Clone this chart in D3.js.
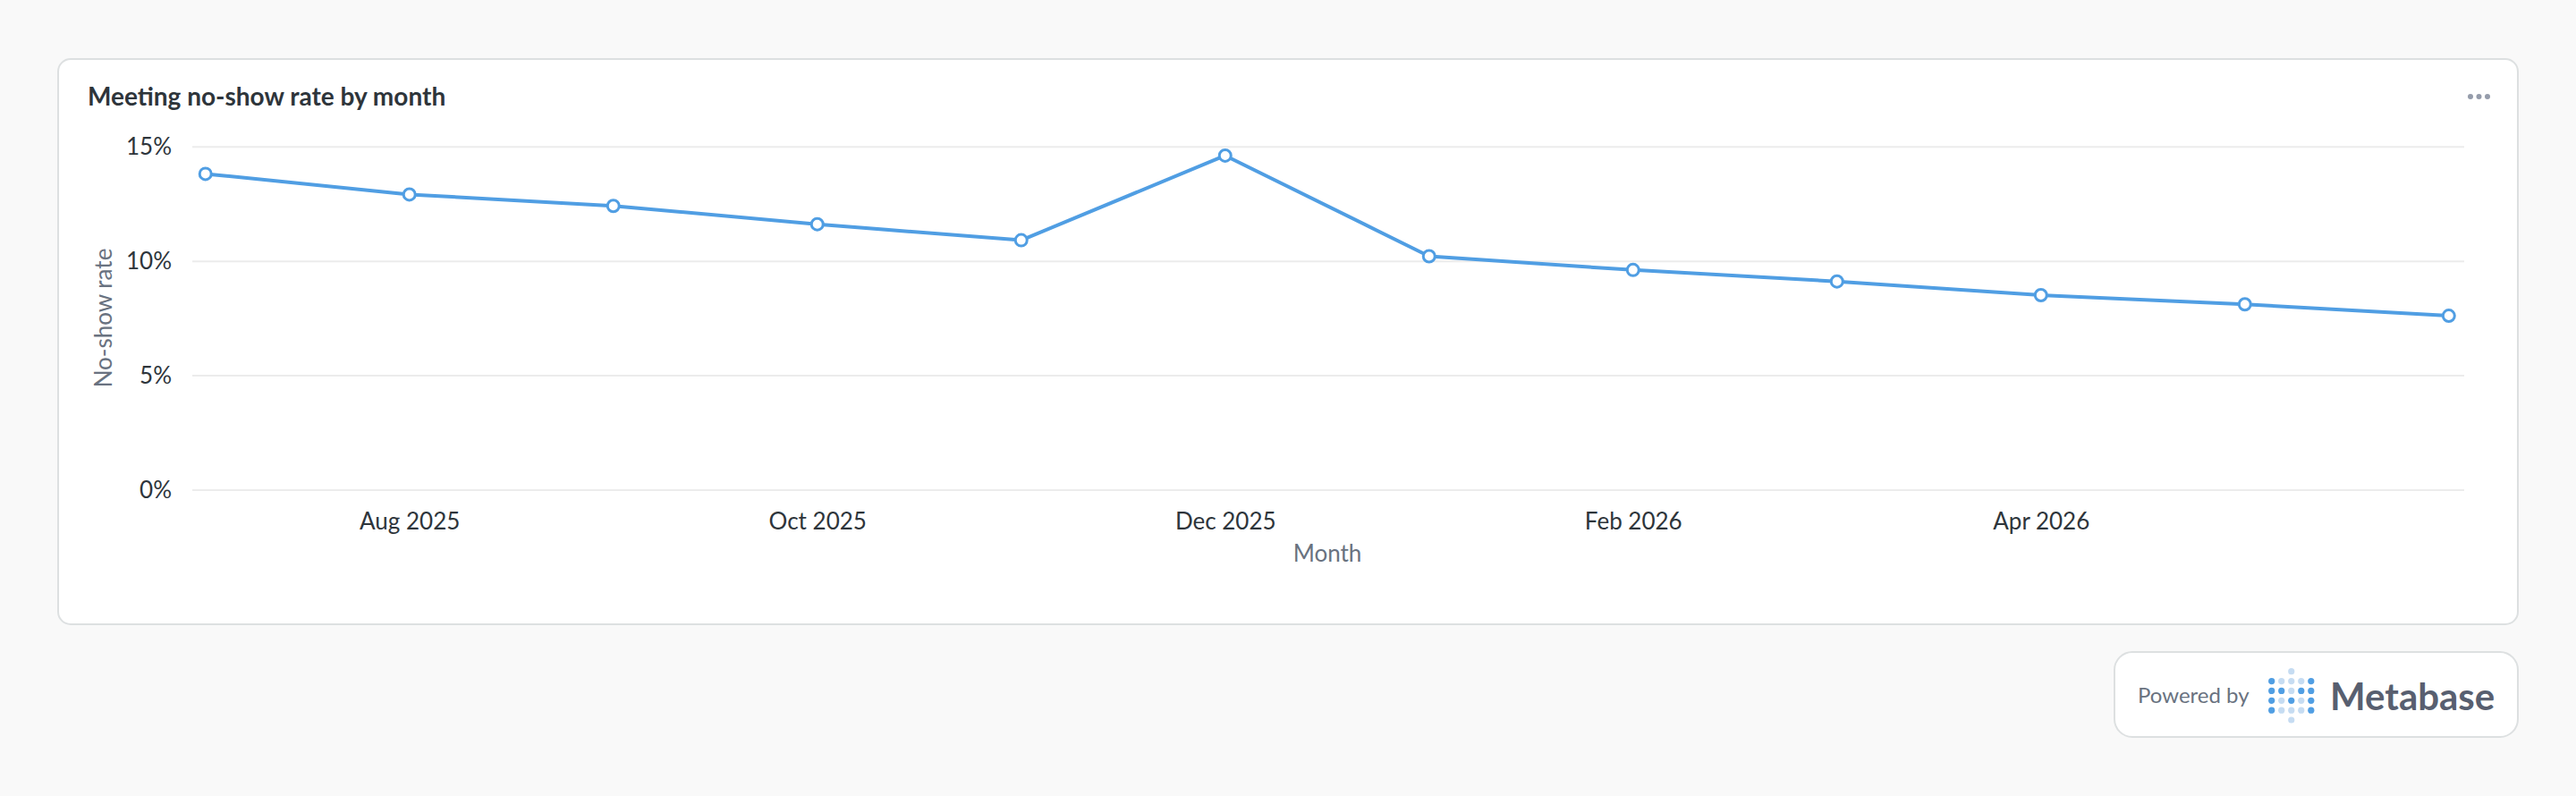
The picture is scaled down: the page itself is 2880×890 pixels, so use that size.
<!DOCTYPE html>
<html>
<head>
<meta charset="utf-8">
<script src="https://cdn.jsdelivr.net/npm/d3@7"></script>
<style>
  html, body { margin: 0; padding: 0; background: #f9f9f9; }
  svg { display: block; font-family: Lato, "Noto Sans", sans-serif; }
</style>
</head>
<body>
<svg id="chart" width="2880" height="890"></svg>
<script>
// ---- data ----
const months = ["Jul 2025","Aug 2025","Sep 2025","Oct 2025","Nov 2025","Dec 2025",
                "Jan 2026","Feb 2026","Mar 2026","Apr 2026","May 2026","Jun 2026"];
const noShowRate = [13.8, 12.9, 12.4, 11.6, 10.9, 14.6, 10.2, 9.6, 9.1, 8.5, 8.1, 7.6];
const xTickLabels = ["Aug 2025","Oct 2025","Dec 2025","Feb 2026","Apr 2026"];
const yTicks = [0, 5, 10, 15];
const chartTitle = "Meeting no-show rate by month";
const xAxisTitle = "Month";
const yAxisTitle = "No-show rate";
// Metabase logo dot pattern (1 = dark, 0 = light)
const logoRows = [[0,0,0,0,0],[1,0,0,0,1],[1,1,0,1,1],[1,0,1,0,1],[1,0,0,0,1],[0,0,0,0,0]];

const svg = d3.select("#chart");
const blue = "#509ee3";

// card
svg.append("rect").attr("x", 65).attr("y", 66).attr("width", 2750).attr("height", 632)
  .attr("rx", 14).attr("fill", "#fff").attr("stroke", "#dde0e1").attr("stroke-width", 2);

svg.append("text").attr("x", 98).attr("y", 118).text(chartTitle)
  .attr("font-size", 28).attr("font-weight", 700).attr("fill", "#2e353b");

// menu dots
[2762, 2771.5, 2781].forEach(cx => svg.append("circle").attr("cx", cx).attr("cy", 108)
  .attr("r", 3).attr("fill", "#959cab"));

// scales
const x = d3.scalePoint().domain(months).range([229.7, 2737.8]);
const y = d3.scaleLinear().domain([0, 15]).range([547.5, 163.7]);

const gridLeft = 215, gridRight = 2755;

// y axis with gridlines
const yAxis = svg.append("g").attr("transform", `translate(${gridLeft},0)`)
  .call(d3.axisLeft(y).tickValues(yTicks).tickFormat(d => d + "%")
    .tickSize(-(gridRight - gridLeft)).tickPadding(23));
yAxis.select(".domain").remove();
yAxis.selectAll(".tick line").attr("stroke", "#ececec").attr("stroke-width", 2);
yAxis.selectAll(".tick text").attr("font-size", 26).attr("fill", "#2e353b")
  .attr("font-family", "Lato").attr("dy", "0.34em");

// x axis
const xAxis = svg.append("g").attr("transform", `translate(0,${y(0)})`)
  .call(d3.axisBottom(x).tickValues(xTickLabels).tickSize(0));
xAxis.select(".domain").remove();
xAxis.selectAll(".tick text").attr("font-size", 26).attr("fill", "#2e353b")
  .attr("font-family", "Lato").attr("y", 44.5).attr("dy", 0);

// axis titles
svg.append("text").attr("x", 1484).attr("y", 628).attr("text-anchor", "middle")
  .text(xAxisTitle).attr("font-size", 26).attr("fill", "#697280");
svg.append("text").attr("transform", "translate(125,355.5) rotate(-90)")
  .attr("text-anchor", "middle").text(yAxisTitle)
  .attr("font-size", 26).attr("fill", "#697280");

// line
const line = d3.line().x((d, i) => x(months[i])).y(d => y(d));
svg.append("path").datum(noShowRate).attr("d", line)
  .attr("fill", "none").attr("stroke", blue).attr("stroke-width", 4)
  .attr("stroke-linejoin", "round");
svg.selectAll("circle.pt").data(noShowRate).join("circle").attr("class", "pt")
  .attr("cx", (d, i) => x(months[i])).attr("cy", d => y(d)).attr("r", 6.5)
  .attr("fill", "#fff").attr("stroke", blue).attr("stroke-width", 3);

// powered-by badge
svg.append("rect").attr("x", 2364).attr("y", 729).attr("width", 451).attr("height", 95)
  .attr("rx", 20).attr("fill", "#fff").attr("stroke", "#dde0e1").attr("stroke-width", 2);
svg.append("text").attr("x", 2390).attr("y", 786).text("Powered by")
  .attr("font-size", 24).attr("fill", "#697280");
const lx = d3.scaleLinear().domain([0, 4]).range([2539.7, 2583.8]);
const ly = d3.scaleLinear().domain([0, 5]).range([750.7, 805]);
logoRows.forEach((row, r) => row.forEach((v, c) => {
  if ((r === 0 || r === 5) && c !== 2) return;
  svg.append("circle").attr("cx", lx(c)).attr("cy", ly(r)).attr("r", 3.6)
    .attr("fill", v ? "#509ee3" : "#c6dcf2");
}));
svg.append("text").attr("x", 2605).attr("y", 794).text("Metabase")
  .attr("font-size", 42).attr("font-weight", 700).attr("fill", "#585f70");
</script>
</body>
</html>
